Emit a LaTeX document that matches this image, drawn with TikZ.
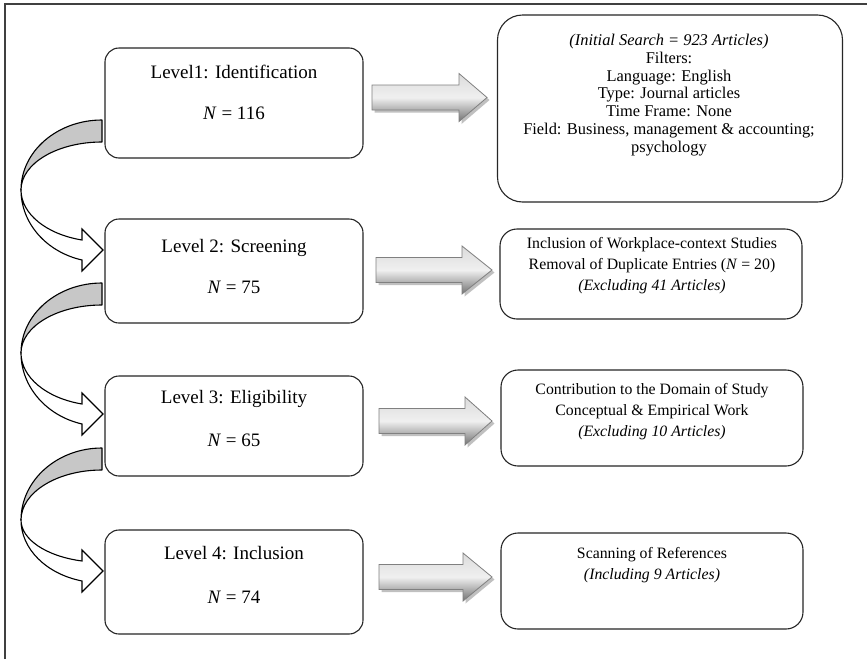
\documentclass[tikz,border=0pt]{standalone}
\usepackage{fontspec}
\setmainfont{Liberation Serif}

\tikzset{
  levelbox/.style={draw=black!85, line width=1.1pt, rounded corners=14pt, inner sep=0pt,
    minimum width=258pt, minimum height=#1},
  infobox/.style={draw=black!85, line width=1.1pt, rounded corners=#1, inner sep=0pt},
  leveltext/.style={font=\fontsize{19}{22}\selectfont, inner sep=0pt},
  infotext/.style={font=\fontsize{15.8}{21}\selectfont, align=center, inner sep=0pt},
  framecol/.style={draw=black!75, line width=1.4pt},
  bandgray/.style={fill=black!22},
  blockarrow/.style={draw=black!50, line width=0.8pt, top color=black!14, bottom color=black!55, middle color=black!6},
  blockshadow/.style={fill=black!35, opacity=0.7},
}

% straight block arrow: #1 shaft start, #2 head base, #3 tip x, #4 centre y
\newcommand\blockarr[4]{%
  \fill[blockshadow] ([shift={(2.5,2.5)}]#1,#4-12.5) -- ([shift={(2.5,2.5)}]#2,#4-12.5) -- ([shift={(2.5,2.5)}]#2,#4-24)
     -- ([shift={(2.5,2.5)}]#3,#4) -- ([shift={(2.5,2.5)}]#2,#4+24) -- ([shift={(2.5,2.5)}]#2,#4+12.5) -- ([shift={(2.5,2.5)}]#1,#4+12.5) -- cycle;
  \path[blockarrow] (#1,#4-12.5) -- (#2,#4-12.5) -- (#2,#4-24) -- (#3,#4) -- (#2,#4+24)
     -- (#2,#4+12.5) -- (#1,#4+12.5) -- cycle;
}

% curved ribbon arrow on the left: #1 top of band, #2 turning point, #3 head centre
\newcommand\ribbonarr[3]{%
  \pgfmathsetmacro\ryA{#2-#1}%
  \pgfmathsetmacro\ryB{#2-#1-22}%
  \pgfmathsetmacro\ryC{(#3+10-#2)/0.9690}%
  \pgfmathsetmacro\ryD{(#3-10-#2)/0.9690}%
  \path[bandgray, draw=black, line width=1.1pt, line join=round]
    (102,#1) arc[start angle=270, end angle=180, x radius=81, y radius=\ryA]
             arc[start angle=180, end angle=270, x radius=81, y radius=\ryB] -- cycle;
  \path[fill=white, draw=black, line width=1.1pt, line join=miter]
    (21,#2) arc[start angle=180, end angle=104.3, x radius=81, y radius=\ryC]
    -- (82,#3+21) -- (103,#3) -- (82,#3-21) -- (82,#3-10)
    arc[start angle=104.3, end angle=180, x radius=81, y radius=\ryD] -- cycle;
}

\begin{document}
\begin{tikzpicture}[x=1pt,y=-1pt]
\useasboundingbox (0,0) rectangle (867,659);
\fill[white] (0,0) rectangle (867,659);

% page frame (left and top edges)
\draw[framecol] (5,659) -- (5,4) -- (867,4);

% level boxes
\node[levelbox=110pt] (b1) at (234,103) {};
\node[levelbox=104pt] (b2) at (234,271) {};
\node[levelbox=100pt] (b3) at (234,426) {};
\node[levelbox=104pt] (b4) at (234,582) {};

\node[leveltext] (b1a) at (234,72) {Level1: Identification};
\node[leveltext] (b1b) at (234,113) {\textit{N} = 116};
\node[leveltext] (b2a) at (234,248) {Level 2: Screening};
\node[leveltext] (b2b) at (234,287) {\textit{N} = 75};
\node[leveltext] (b3a) at (234,399) {Level 3: Eligibility};
\node[leveltext] (b3b) at (234,440) {\textit{N} = 65};
\node[leveltext] (b4a) at (234,553) {Level 4: Inclusion};
\node[leveltext] (b4b) at (234,597) {\textit{N} = 74};

% information boxes
\node[infobox=25pt, minimum width=345pt, minimum height=187pt] (r1) at (670,108.5) {};
\node[infobox=17pt, minimum width=302pt, minimum height=90pt] (r2) at (651,274) {};
\node[infobox=17pt, minimum width=302pt, minimum height=96pt] (r3) at (652,418) {};
\node[infobox=17pt, minimum width=302pt, minimum height=96pt] (r4) at (652,581) {};

\node[infotext, font=\fontsize{16.4}{17.8}\selectfont] (r1t) at (669,95)
  {\textit{(Initial Search = 923 Articles)}\\Filters:\\Language: English\\Type: Journal articles\\Time Frame: None\\Field: Business, management \& accounting;\\psychology};
\node[infotext] (r2t) at (652,266)
  {Inclusion of Workplace-context Studies\\Removal of Duplicate Entries (\textit{N} = 20)\\\textit{(Excluding 41 Articles)}};
\node[infotext] (r3t) at (652,412)
  {Contribution to the Domain of Study\\Conceptual \& Empirical Work\\\textit{(Excluding 10 Articles)}};
\node[infotext] (r4t) at (652,565)
  {Scanning of References\\\textit{(Including 9 Articles)}};

% block arrows towards the information boxes
\blockarr{372}{459}{487}{97.5}
\blockarr{376}{462}{492}{270}
\blockarr{379}{465}{492}{421}
\blockarr{379}{463}{492}{577}

% ribbon arrows between levels
\ribbonarr{120}{190}{250}
\ribbonarr{283}{353}{414}
\ribbonarr{448}{520}{571}
\end{tikzpicture}
\end{document}
